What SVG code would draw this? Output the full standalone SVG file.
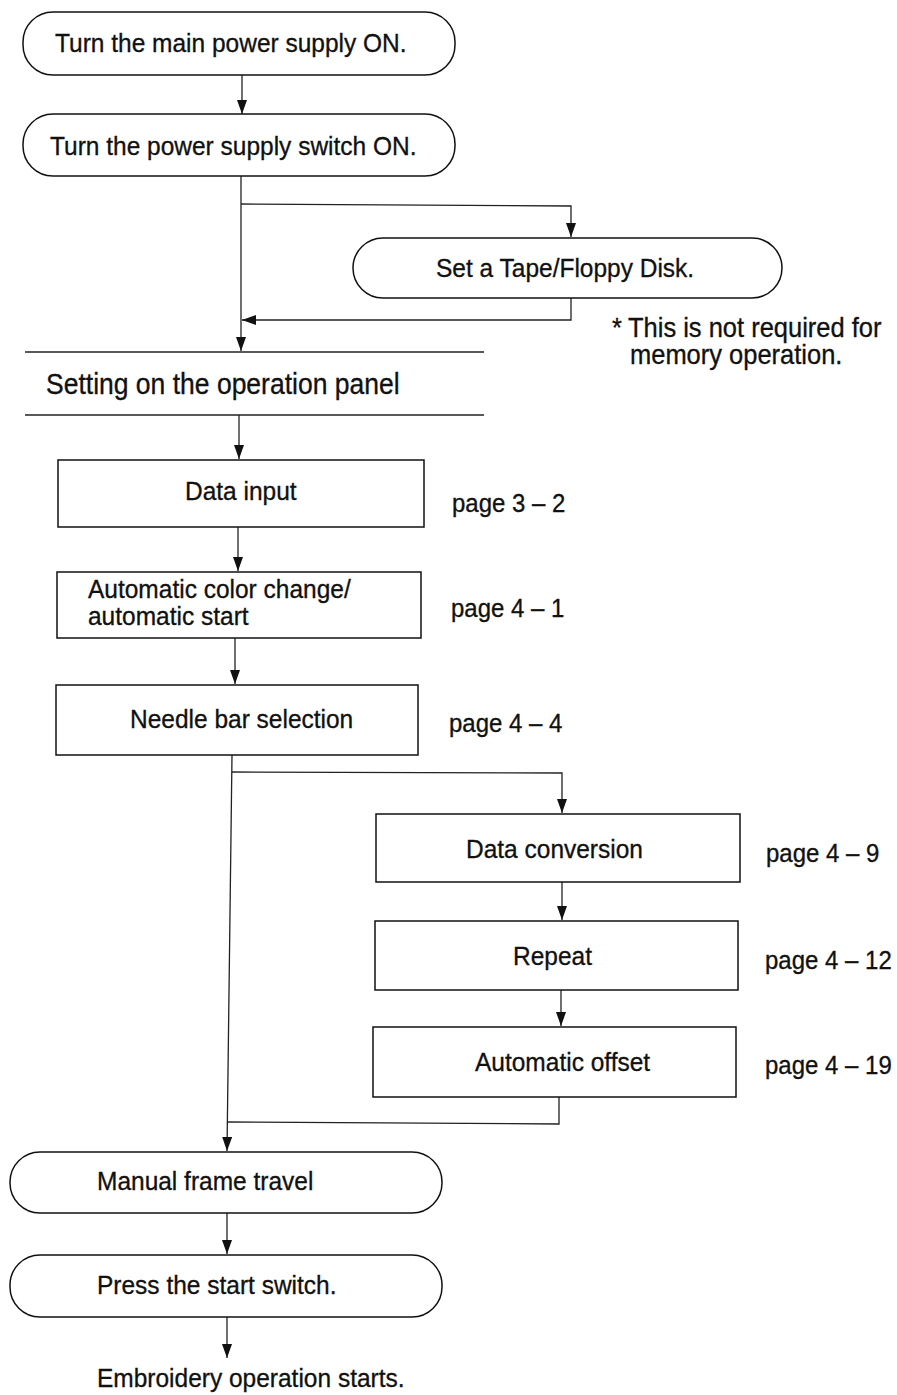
<svg xmlns="http://www.w3.org/2000/svg" width="897" height="1395" viewBox="0 0 897 1395">
<style>
text{font-family:"Liberation Sans",Arial,sans-serif;font-size:24.5px;fill:#111;stroke:#111;stroke-width:0.3}
.t{font-size:24.5px}
.s{font-size:26.5px}
.n{font-size:25.5px}
.p{font-size:24px}
.box{fill:#fff;stroke:#111;stroke-width:1.5}
.c{fill:none;stroke:#222;stroke-width:1.3}
.rule{stroke:#222;stroke-width:1.4}
</style>
<defs>
<marker id="ah" viewBox="0 0 14 10" refX="14" refY="5" markerWidth="14" markerHeight="10" markerUnits="userSpaceOnUse" orient="auto">
<path d="M0,0 L14,5 L0,10 z" fill="#111"/>
</marker>
</defs>
<rect width="897" height="1395" fill="#fff"/>

<g id="connectors">
<line class="c" x1="242" y1="75" x2="242" y2="114" marker-end="url(#ah)"/>
<line class="c" x1="241" y1="176" x2="241" y2="351" marker-end="url(#ah)"/>
<polyline class="c" points="241,204 571,206 571,237" marker-end="url(#ah)"/>
<polyline class="c" points="571,298 571,320 242,320" marker-end="url(#ah)"/>
<line class="c" x1="239" y1="415" x2="239" y2="459" marker-end="url(#ah)"/>
<line class="c" x1="238" y1="527" x2="238" y2="571" marker-end="url(#ah)"/>
<line class="c" x1="235" y1="638" x2="235" y2="684" marker-end="url(#ah)"/>
<line class="c" x1="232" y1="755" x2="227" y2="1151" marker-end="url(#ah)"/>
<polyline class="c" points="232,772 562,773 562,813" marker-end="url(#ah)"/>
<line class="c" x1="562" y1="882" x2="562" y2="920" marker-end="url(#ah)"/>
<line class="c" x1="561" y1="990" x2="561" y2="1026" marker-end="url(#ah)"/>
<polyline class="c" points="559,1097 559,1124 228,1122"/>
<line class="c" x1="227" y1="1213" x2="227" y2="1254" marker-end="url(#ah)"/>
<line class="c" x1="227" y1="1317" x2="227" y2="1358" marker-end="url(#ah)"/>
</g>

<g id="n1"><rect class="box" x="23" y="12" width="432" height="63" rx="30"/><text class="t" transform="translate(55,52) scale(1,1.08)">Turn the main power supply ON.</text></g>
<g id="n2"><rect class="box" x="23" y="114" width="432" height="62" rx="30"/><text class="t" transform="translate(50,155) scale(1,1.08)">Turn the power supply switch ON.</text></g>
<g id="n3"><rect class="box" x="353" y="238" width="429" height="60" rx="30"/><text class="t" transform="translate(436,277) scale(1,1.08)">Set a Tape/Floppy Disk.</text></g>
<g id="note"><text class="n" transform="translate(612,337) scale(1,1.08)">*</text><text class="n" transform="translate(628,337) scale(1,1.08)">This is not required for</text><text class="n" transform="translate(630,364) scale(1,1.08)">memory operation.</text></g>
<g id="n4"><line class="rule" x1="25" y1="352" x2="484" y2="352"/><line class="rule" x1="25" y1="415" x2="484" y2="415"/><text class="s" transform="translate(46,394) scale(1,1.08)">Setting on the operation panel</text></g>
<g id="n5"><rect class="box" x="58" y="460" width="366" height="67"/><text transform="translate(185,500) scale(1,1.08)">Data input</text><text class="p" transform="translate(452,512) scale(1,1.08)">page 3 – 2</text></g>
<g id="n6"><rect class="box" x="57" y="572" width="364" height="66"/><text transform="translate(88,598) scale(1,1.08)">Automatic color change/</text><text transform="translate(88,625) scale(1,1.08)">automatic start</text><text class="p" transform="translate(451,617) scale(1,1.08)">page 4 – 1</text></g>
<g id="n7"><rect class="box" x="56" y="685" width="362" height="70"/><text transform="translate(130,728) scale(1,1.08)">Needle bar selection</text><text class="p" transform="translate(449,732) scale(1,1.08)">page 4 – 4</text></g>
<g id="n8"><rect class="box" x="376" y="814" width="364" height="68"/><text transform="translate(466,858) scale(1,1.08)">Data conversion</text><text class="p" transform="translate(766,862) scale(1,1.08)">page 4 – 9</text></g>
<g id="n9"><rect class="box" x="375" y="921" width="363" height="69"/><text transform="translate(513,965) scale(1,1.08)">Repeat</text><text class="p" transform="translate(765,969) scale(1,1.08)">page 4 – 12</text></g>
<g id="n10"><rect class="box" x="373" y="1027" width="363" height="70"/><text transform="translate(475,1071) scale(1,1.08)">Automatic offset</text><text class="p" transform="translate(765,1074) scale(1,1.08)">page 4 – 19</text></g>
<g id="n11"><rect class="box" x="10" y="1152" width="432" height="61" rx="30"/><text class="t" transform="translate(97,1190) scale(1,1.08)">Manual frame travel</text></g>
<g id="n12"><rect class="box" x="10" y="1255" width="432" height="62" rx="30"/><text class="t" transform="translate(97,1294) scale(1,1.08)">Press the start switch.</text></g>
<g id="n13"><text class="t" transform="translate(97,1387) scale(1,1.08)">Embroidery operation starts.</text></g>
</svg>
